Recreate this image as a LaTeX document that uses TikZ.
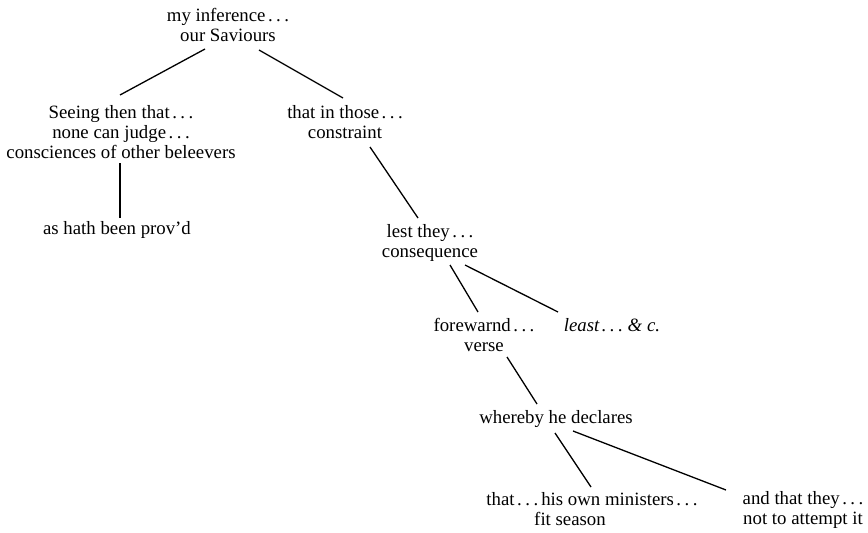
\documentclass[tikz,border=0pt]{standalone}
\usepackage{fontspec}
\setmainfont{Liberation Serif}
\newcommand\dd{\kern2.5pt.\kern3.5pt.\kern3.5pt.}
\begin{document}
\begin{tikzpicture}[x=1pt,y=-1pt,
  txt/.style={align=center, inner sep=0pt, font=\fontsize{18.8}{20}\selectfont},
  link/.style={line width=1.3pt}]
\useasboundingbox (0,0) rectangle (868,533);
\node[txt] (root)    at (228,25)  {my inference\dd\\our Saviours};
\node[txt] (left)    at (121,132) {Seeing then that\dd\\none can judge\dd\\consciences of other beleevers};
\node[txt] (right)   at (345,122) {that in those\dd\\constraint};
\node[txt] (ashath)  at (117,230) {as hath been prov'd};
\node[txt] (lest)    at (430,243) {lest they\dd\\consequence};
\node[txt] (fore)    at (484,335) {forewarnd\dd\\verse};
\node[txt] (least)   at (612,325) {\itshape least\dd\ \& c.};
\node[txt] (whereby) at (556,419) {whereby he declares};
\node[txt] (that)    at (592,509) {that\dd\,his own ministers\dd\\fit season\hspace*{44pt}};
\node[txt] (and)     at (803,510) {and that they\dd\\not to attempt it};

\draw[link] ([shift={(-23,24)}]root.center) -- ([shift={(-1,-37)}]left.center);
\draw[link] ([shift={(31,25)}]root.center) -- ([shift={(-2,-24)}]right.center);
\draw[link] ([shift={(-1,31)}]left.center) -- ([shift={(3,-12)}]ashath.center);
\draw[link] ([shift={(25,25)}]right.center) -- ([shift={(-12,-25)}]lest.center);
\draw[link] ([shift={(20,22)}]lest.center) -- ([shift={(-6,-23)}]fore.center);
\draw[link] ([shift={(35,22)}]lest.center) -- ([shift={(-54,-13)}]least.center);
\draw[link] ([shift={(23,22)}]fore.center) -- ([shift={(-19,-15)}]whereby.center);
\draw[link] ([shift={(-1,14)}]whereby.center) -- ([shift={(-1,-22)}]that.center);
\draw[link] ([shift={(17,12)}]whereby.center) -- ([shift={(-77,-20)}]and.center);
\end{tikzpicture}
\end{document}
